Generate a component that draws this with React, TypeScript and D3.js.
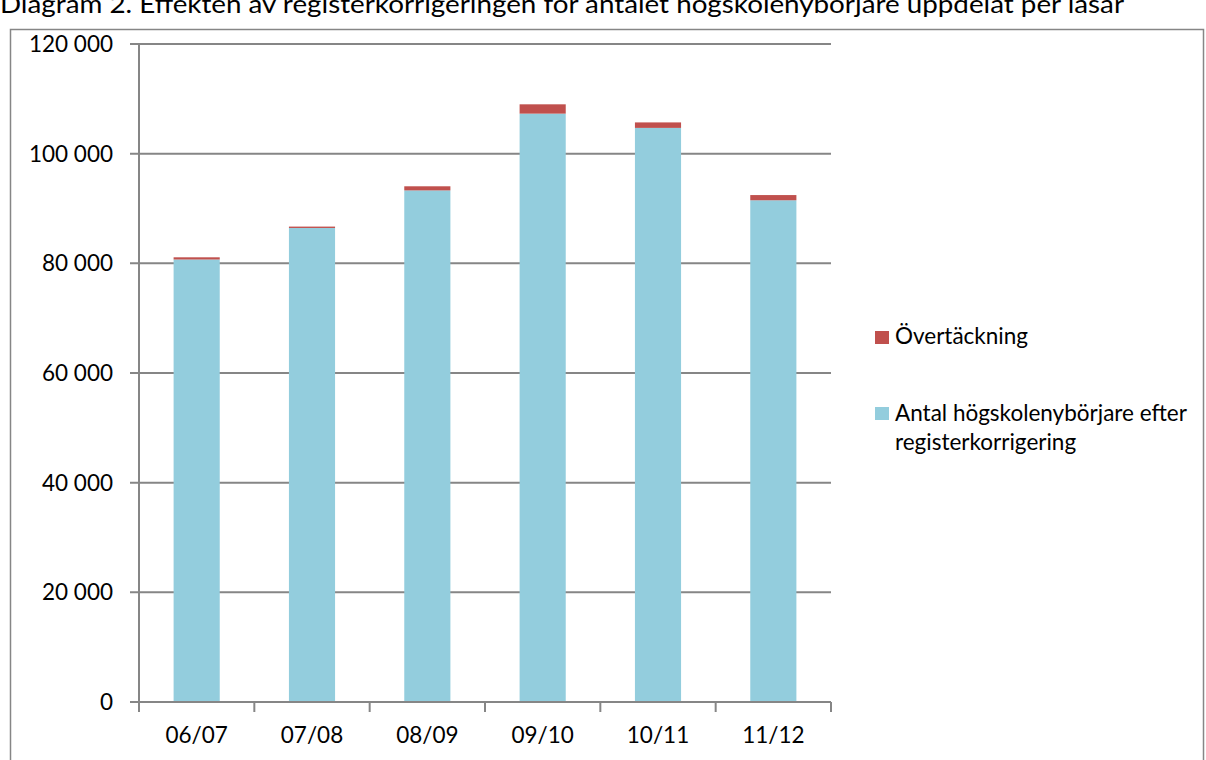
import React from "react";
import * as d3 from "d3";

const categories = ["06/07", "07/08", "08/09", "09/10", "10/11", "11/12"];
const corrected = [80700, 86450, 93300, 107300, 104700, 91500];
const overcoverage = [400, 250, 750, 1700, 1000, 950];
const yTicks = [0, 20000, 40000, 60000, 80000, 100000, 120000];
const seriesNames = ["Antal högskolenybörjare efter registerkorrigering", "Övertäckning"];
const title = "Diagram 2. Effekten av registerkorrigeringen för antalet högskolenybörjare uppdelat per läsår";

const W = 1206;
const H = 760;
const FONT = "Lato, 'Open Sans', sans-serif";
const BLUE = "#93CDDD";
const RED = "#C0504D";
const GRID = "#868686";

export default function App() {
  const x = d3.scaleBand<string>().domain(categories).range([139, 831]).paddingInner(0.6).paddingOuter(0.3);
  const y = d3.scaleLinear().domain([0, 120000]).range([702, 44]);
  const fmt = (v: number) => d3.format(",")(v).replace(/,/g, " ");
  const rows = categories.map((c, i) => ({ c, a: corrected[i], b: overcoverage[i] }));
  const stack = d3.stack<any>().keys(["a", "b"])(rows);
  const colors = [BLUE, RED];
  const step = x.step();

  return (
    <svg width={W} height={H} style={{ position: "absolute", left: 0, top: 0, fontFamily: FONT }}>
      <rect x={0} y={0} width={W} height={H} fill="#fff" />
      <text x={0} y={13} fontSize={25} fill="#000" textLength={1124} lengthAdjust="spacingAndGlyphs">{title}</text>
      <rect x={10.5} y={29.5} width={1193} height={H} fill="none" stroke={GRID} strokeWidth={1.5} />
      {yTicks.map((t) => (
        <g key={t}>
          <line x1={130} x2={831} y1={y(t)} y2={y(t)} stroke={GRID} strokeWidth={2} />
          <text x={113} y={y(t) + 8} textAnchor="end" fontSize={22.5} fill="#000">{fmt(t)}</text>
        </g>
      ))}
      <line x1={139} x2={139} y1={44} y2={712} stroke={GRID} strokeWidth={2} />
      {categories.map((c, i) => (
        <line key={"t" + c} x1={139 + step * (i + 1)} x2={139 + step * (i + 1)} y1={702} y2={712} stroke={GRID} strokeWidth={2} />
      ))}
      {stack.map((s, si) =>
        s.map((d, i) => (
          <rect key={si + "-" + i} x={x(categories[i])} width={x.bandwidth()} y={y(d[1])} height={y(d[0]) - y(d[1])} fill={colors[si]} />
        ))
      )}
      <line x1={139} x2={831} y1={702} y2={702} stroke={GRID} strokeWidth={2} />
      {categories.map((c) => (
        <text key={"l" + c} x={(x(c) as number) + x.bandwidth() / 2} y={743} textAnchor="middle" fontSize={22.5} fill="#000">{c}</text>
      ))}
      <rect x={875} y={331} width={14} height={13} fill={RED} />
      <text x={895} y={344} fontSize={22.5} fill="#000">{seriesNames[1]}</text>
      <rect x={875} y={407} width={14} height={13} fill={BLUE} />
      <text x={895} y={421} fontSize={22.5} fill="#000">Antal högskolenybörjare efter</text>
      <text x={895} y={450} fontSize={22.5} fill="#000">registerkorrigering</text>
    </svg>
  );
}
